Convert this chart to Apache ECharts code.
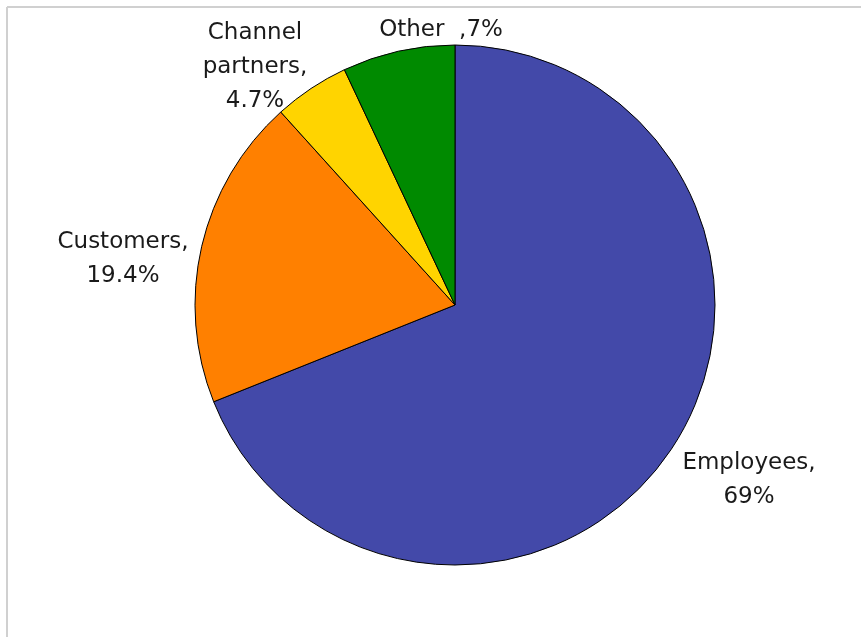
<!DOCTYPE html>
<html><head><meta charset="utf-8">
<script src="https://cdn.jsdelivr.net/npm/echarts@6/dist/echarts.min.js"></script>
<style>html,body{margin:0;padding:0;background:#fff}#c{width:861px;height:637px}</style>
</head><body><div id="c"></div>
<script>
const categories = ['Employees', 'Customers', 'Channel partners', 'Other'];
const values = [69, 19.4, 4.7, 7];
const labelTexts = ['Employees,\n69%', 'Customers,\n19.4%', 'Channel\npartners,\n4.7%', 'Other  ,7%'];
const colors = ['#4349A9', '#FF8000', '#FFD400', '#008A00'];
const labelCenters = [[749, 480], [123, 259], [255, 67], [441, 30]];

const chart = echarts.init(document.getElementById('c'));
chart.setOption({
  animation: false,
  graphic: [
    {type: 'line', shape: {x1: 7, y1: 7, x2: 861, y2: 7}, style: {stroke: '#d0d0d0', lineWidth: 2}},
    {type: 'line', shape: {x1: 7, y1: 7, x2: 7, y2: 637}, style: {stroke: '#d0d0d0', lineWidth: 2}}
  ],
  series: [{
    type: 'pie',
    center: [455, 305],
    radius: 260,
    startAngle: 90,
    clockwise: true,
    avoidLabelOverlap: false,
    data: categories.map((n, i) => ({name: n, value: values[i], itemStyle: {color: colors[i]}})),
    itemStyle: {borderColor: '#000', borderWidth: 1},
    label: {
      show: true,
      position: 'outside',
      formatter: p => labelTexts[p.dataIndex],
      fontFamily: 'DejaVu Sans',
      fontSize: 23,
      lineHeight: 34,
      color: '#1a1a1a',
      align: 'center'
    },
    labelLine: {show: false},
    labelLayout: p => ({x: labelCenters[p.dataIndex][0], y: labelCenters[p.dataIndex][1], align: 'center', verticalAlign: 'middle'}),
    emphasis: {disabled: true}
  }]
});
</script></body></html>
